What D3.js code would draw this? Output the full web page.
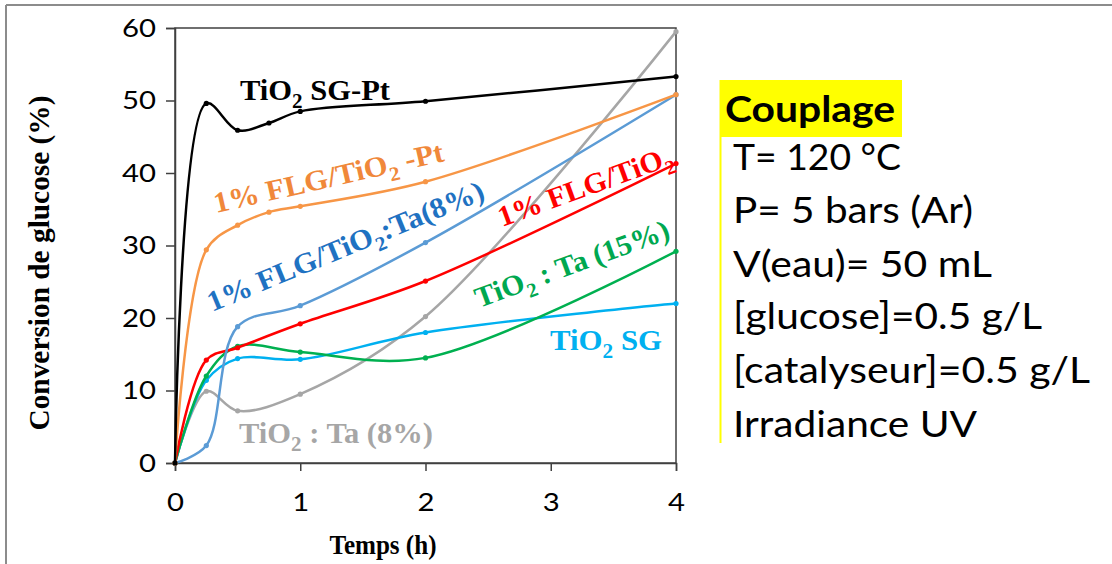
<!DOCTYPE html>
<html><head><meta charset="utf-8">
<script src="https://cdn.jsdelivr.net/npm/d3@7/dist/d3.min.js"></script>
<style>body{margin:0;background:#fff}svg{display:block}</style>
</head><body>
<svg id="chart" width="1112" height="564"></svg>
<script>
// ---- data ----
const xTicks = [0, 1, 2, 3, 4];
const yTicks = [0, 10, 20, 30, 40, 50, 60];

const tSGPt   = [0, 0.25, 0.5, 0.75, 1, 2, 4];
const vSGPt   = [0, 49.6, 45.9, 46.9, 48.5, 49.9, 53.3];
const tFLGPt  = [0, 0.25, 0.5, 0.75, 1, 2, 4];
const vFLGPt  = [0, 29.4, 32.8, 34.6, 35.4, 38.8, 50.8];
const tFLGTa  = [0, 0.25, 0.5, 1, 2, 4];
const vFLGTa  = [0, 2.4, 18.8, 21.7, 30.4, 50.8];
const tFLG    = [0, 0.25, 0.5, 1, 2, 4];
const vFLG    = [0, 14.2, 15.9, 19.2, 25.1, 41.3];
const tTa15   = [0, 0.25, 0.5, 1, 2, 4];
const vTa15   = [0, 12.0, 16.1, 15.3, 14.5, 29.2];
const tSG     = [0, 0.25, 0.5, 1, 2, 4];
const vSG     = [0, 11.4, 14.4, 14.3, 18.0, 22.0];
const tTa8    = [0, 0.25, 0.5, 1, 2, 4];
const vTa8    = [0, 9.9, 7.2, 9.5, 20.2, 59.5];

const conditions = ["T= 120 °C", "P= 5 bars (Ar)", "V(eau)= 50 mL", "[glucose]=0.5 g/L", "[catalyseur]=0.5 g/L", "Irradiance UV"];

const series = [
  {t: tTa8,  v: vTa8,  color: "#A6A6A6"},
  {t: tSG,   v: vSG,   color: "#00B0F0"},
  {t: tTa15, v: vTa15, color: "#00B050"},
  {t: tFLG,  v: vFLG,  color: "#FF0000"},
  {t: tFLGTa,v: vFLGTa,color: "#5B9BD5"},
  {t: tFLGPt,v: vFLGPt,color: "#F79646"},
  {t: tSGPt, v: vSGPt, color: "#000000"}
];

// labels: [before, subscript, after]
const labels = [
  {parts: ["TiO", "2", " SG-Pt"],            color: "#000000", x: 240, y: 100, a: 0,     len: 150},
  {parts: ["1% FLG/TiO", "2", " -Pt"],        color: "#F0883A", x: 216, y: 213, a: -12.8, len: 235},
  {parts: ["1% FLG/TiO", "2", ":Ta(8%)"],     color: "#1F72C2", x: 212, y: 312, a: -22.5, len: 297},
  {parts: ["1% FLG/TiO", "2", ""],            color: "#FF0000", x: 502, y: 227, a: -20,   len: 184},
  {parts: ["TiO", "2", " : Ta (15%)"],        color: "#00A850", x: 479, y: 308, a: -20,   len: 205},
  {parts: ["TiO", "2", " SG"],                color: "#00B0F0", x: 550, y: 350, a: 0,     len: 112},
  {parts: ["TiO", "2", " : Ta (8%)"],         color: "#A6A6A6", x: 239, y: 443, a: 0,     len: 194}
];

// ---- drawing ----
const svg = d3.select("#chart");
const x = d3.scaleLinear().domain([0, 4]).range([175, 676]);
const y = d3.scaleLinear().domain([0, 60]).range([463, 28]);

// outer frame (top + left)
svg.append("line").attr("x1", 6).attr("x2", 1112).attr("y1", 5).attr("y2", 5).attr("stroke", "#8c8c8c").attr("stroke-width", 2);
svg.append("line").attr("x1", 6).attr("x2", 6).attr("y1", 5).attr("y2", 564).attr("stroke", "#8c8c8c").attr("stroke-width", 2);

const axisColor = "#404040";
// plot box
svg.append("rect").attr("x", x(0)).attr("y", y(60)).attr("width", x(4) - x(0)).attr("height", y(0) - y(60))
  .attr("fill", "none").attr("stroke", axisColor).attr("stroke-width", 1.5);

const tickFont = "Lato, 'Open Sans', sans-serif";
const yAxis = svg.append("g").attr("transform", `translate(${x(0)},0)`)
  .call(d3.axisLeft(y).tickValues(yTicks).tickSize(9).tickPadding(10).tickFormat(d3.format("d")));
const xAxis = svg.append("g").attr("transform", `translate(0,${y(0)})`)
  .call(d3.axisBottom(x).tickValues(xTicks).tickSize(8).tickPadding(22).tickFormat(d3.format("d")));
[yAxis, xAxis].forEach(g => {
  g.attr("font-size", null).attr("font-family", null);
  g.select(".domain").attr("stroke", axisColor).attr("stroke-width", 1.5);
  g.selectAll(".tick line").attr("stroke", axisColor).attr("stroke-width", 1.5);
  g.selectAll(".tick text").attr("font-family", tickFont).attr("font-size", 25).attr("fill", "#000")
    .attr("textLength", d => String(d).length * 17).attr("lengthAdjust", "spacingAndGlyphs");
});

// lines
const line = d3.line().x(d => x(d[0])).y(d => y(d[1])).curve(d3.curveCatmullRom.alpha(0.5));
series.forEach(s => {
  const pts = s.t.map((t, i) => [t, s.v[i]]);
  svg.append("path").attr("d", line(pts)).attr("fill", "none").attr("stroke", s.color).attr("stroke-width", 2.5);
  svg.selectAll(null).data(pts).enter().append("circle")
    .attr("cx", d => x(d[0])).attr("cy", d => y(d[1])).attr("r", 2.6).attr("fill", s.color);
});

// series labels
const serif = "'Liberation Serif', 'Times New Roman', serif";
labels.forEach(l => {
  const t = svg.append("text").attr("transform", `translate(${l.x},${l.y}) rotate(${l.a})`)
    .attr("font-family", serif).attr("font-weight", "bold").attr("font-size", 29).attr("fill", l.color)
    .attr("textLength", l.len).attr("lengthAdjust", "spacingAndGlyphs");
  t.append("tspan").text(l.parts[0]);
  t.append("tspan").attr("font-size", 20).attr("dy", 8).text(l.parts[1]);
  if (l.parts[2]) t.append("tspan").attr("dy", -8).text(l.parts[2]);
});

// axis titles
svg.append("text").attr("x", 383).attr("y", 554).attr("text-anchor", "middle")
  .attr("font-family", serif).attr("font-weight", "bold").attr("font-size", 28)
  .attr("textLength", 107).attr("lengthAdjust", "spacingAndGlyphs").text("Temps (h)");
svg.append("text").attr("transform", "translate(49,263) rotate(-90)").attr("text-anchor", "middle")
  .attr("font-family", serif).attr("font-weight", "bold").attr("font-size", 29)
  .attr("textLength", 335).attr("lengthAdjust", "spacingAndGlyphs").text("Conversion de glucose (%)");

// conditions box
const sans = "Lato, 'Open Sans', sans-serif";
svg.append("rect").attr("x", 720).attr("y", 80).attr("width", 182).attr("height", 57).attr("fill", "#FFFF00");
svg.append("line").attr("x1", 720.5).attr("x2", 720.5).attr("y1", 80).attr("y2", 443).attr("stroke", "#FFFF00").attr("stroke-width", 2);
svg.append("text").attr("x", 725).attr("y", 122).attr("font-family", sans).attr("font-weight", "bold")
  .attr("font-size", 36).attr("textLength", 170).attr("lengthAdjust", "spacingAndGlyphs").text("Couplage");
const condLens = [168, 240, 259, 309, 357, 244];
const condBase = [170, 223.3, 276.7, 329.3, 382.7, 436.7];
conditions.forEach((c, i) => {
  svg.append("text").attr("x", 733).attr("y", condBase[i]).attr("font-family", sans)
    .attr("font-size", 36).attr("textLength", condLens[i]).attr("lengthAdjust", "spacingAndGlyphs").text(c);
});
</script>
</body></html>
